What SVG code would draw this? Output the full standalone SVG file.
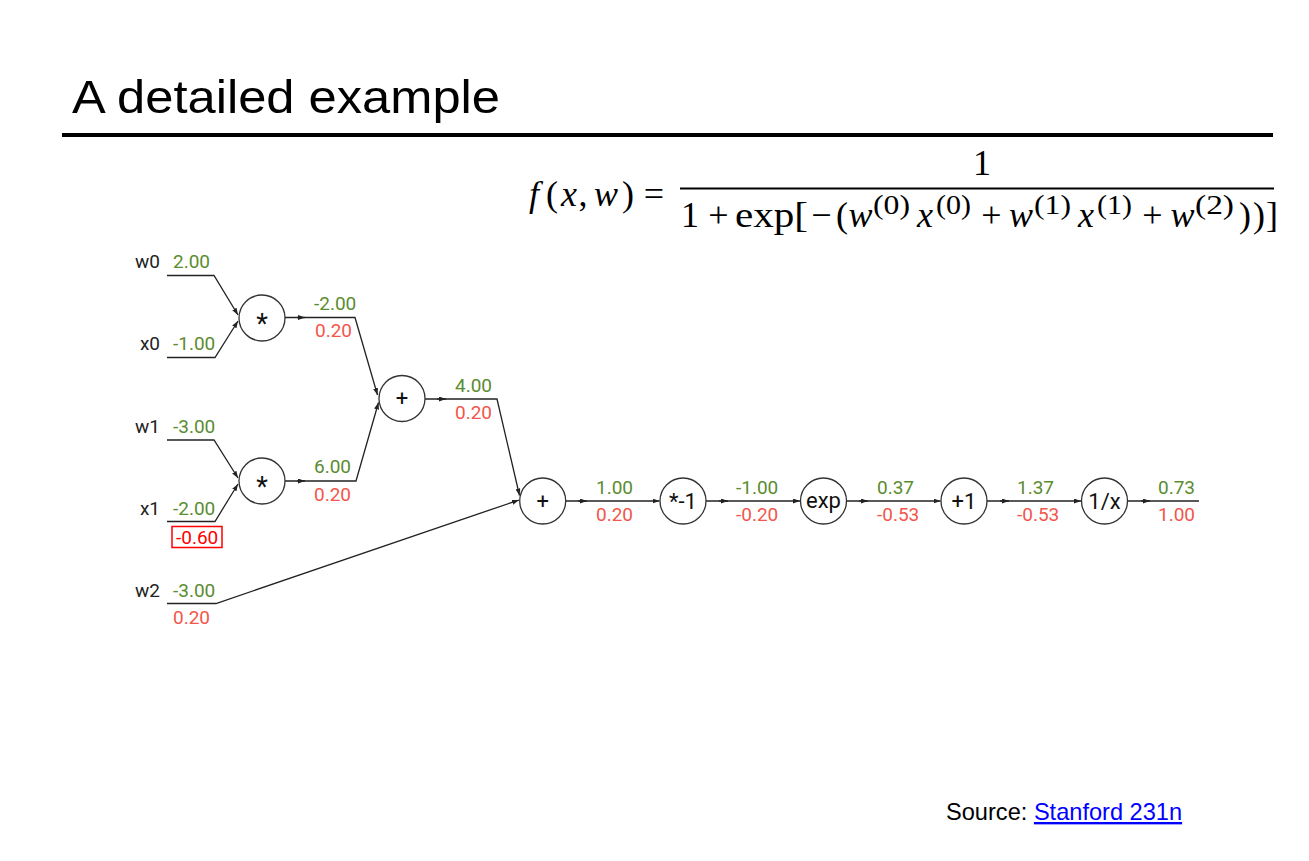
<svg xmlns="http://www.w3.org/2000/svg" width="1309" height="861" viewBox="0 0 1309 861">
<style>
  .title{font-family:"Liberation Sans",Arial,sans-serif;font-size:46px;fill:#000}
  .math{font-family:"Liberation Serif","Times New Roman",serif;font-size:36px;fill:#000}
  .c{text-anchor:middle}
  .mi{font-style:italic}
  .sup{font-size:27px}
  .lbl{font-family:Roboto,"Liberation Sans",sans-serif;font-size:19px;fill:#222}
  .g{font-family:Roboto,"Liberation Sans",sans-serif;font-size:19px;fill:#5a8c30}
  .r{font-family:Roboto,"Liberation Sans",sans-serif;font-size:19px;fill:#f2564c}
  .rb{font-family:Roboto,"Liberation Sans",sans-serif;font-size:19px;fill:#ff0000}
  .node circle{fill:#fff;stroke:#333;stroke-width:1.3}
  .node text{font-family:Roboto,"Liberation Sans",sans-serif;font-size:22px;fill:#111;text-anchor:middle}
  .node text.ast{font-size:27px}
  .edge{fill:none;stroke:#222;stroke-width:1.3}
  .src{font-family:"Liberation Sans",Arial,sans-serif;font-size:23.6px}
</style>
<defs>
  <marker id="arr" viewBox="0 0 7 5" refX="7" refY="2.5" markerWidth="7" markerHeight="5" markerUnits="userSpaceOnUse" orient="auto">
    <path d="M0,0 L7,2.5 L0,5 z" fill="#222"/>
  </marker>
</defs>
<rect width="1309" height="861" fill="#fff"/>

<g id="title">
  <text class="title" x="72" y="113" textLength="428" lengthAdjust="spacingAndGlyphs">A detailed example</text>
  <rect x="62" y="133" width="1211" height="4" fill="#000"/>
</g>

<g id="formula" class="math">
  <text class="c mi" x="534" y="206">f</text>
  <text class="c" x="552" y="206">(</text>
  <text class="c mi" x="569" y="206">x</text>
  <text class="c" x="583" y="206">,</text>
  <text class="c mi" x="606" y="206">w</text>
  <text class="c" x="628" y="206">)</text>
  <text class="c" x="654" y="206">=</text>
  <text class="c" x="982" y="175">1</text>
  <rect x="680" y="187.5" width="594" height="2" fill="#000"/>
  <text class="c" x="690" y="227">1</text>
  <text class="c" x="718.5" y="227">+</text>
  <text x="735" y="227" textLength="73" lengthAdjust="spacingAndGlyphs">exp[</text>
  <text class="c" x="821.5" y="227">−</text>
  <text class="c" x="842" y="227">(</text>
  <text class="c mi" x="860.5" y="227">w</text>
  <text class="sup" x="873" y="214" textLength="37" lengthAdjust="spacingAndGlyphs">(0)</text>
  <text class="c mi" x="925" y="227">x</text>
  <text class="sup" x="936" y="214" textLength="35" lengthAdjust="spacingAndGlyphs">(0)</text>
  <text class="c" x="991.5" y="227">+</text>
  <text class="c mi" x="1021" y="227">w</text>
  <text class="sup" x="1034" y="214" textLength="37" lengthAdjust="spacingAndGlyphs">(1)</text>
  <text class="c mi" x="1086" y="227">x</text>
  <text class="sup" x="1097" y="214" textLength="35" lengthAdjust="spacingAndGlyphs">(1)</text>
  <text class="c" x="1152.5" y="227">+</text>
  <text class="c mi" x="1182.5" y="227">w</text>
  <text class="sup" x="1195" y="214" textLength="39" lengthAdjust="spacingAndGlyphs">(2)</text>
  <text class="c" x="1245" y="227">)</text>
  <text class="c" x="1259" y="227">)</text>
  <text class="c" x="1272" y="227">]</text>
</g>

<g id="inputs">
  <g id="in-w0"><text class="lbl" x="160" y="268" text-anchor="end">w0</text><text class="g" x="173" y="268">2.00</text></g>
  <g id="in-x0"><text class="lbl" x="160" y="350" text-anchor="end">x0</text><text class="g" x="173" y="350">-1.00</text></g>
  <g id="in-w1"><text class="lbl" x="160" y="433" text-anchor="end">w1</text><text class="g" x="173" y="433">-3.00</text></g>
  <g id="in-x1"><text class="lbl" x="160" y="515" text-anchor="end">x1</text><text class="g" x="173" y="515">-2.00</text>
    <rect x="172" y="526.5" width="50" height="21" fill="none" stroke="#ff0000" stroke-width="1.5"/>
    <text class="rb" x="176" y="544">-0.60</text></g>
  <g id="in-w2"><text class="lbl" x="160" y="597" text-anchor="end">w2</text><text class="g" x="173" y="597">-3.00</text><text class="r" x="173" y="624">0.20</text></g>
</g>

<g id="connectors">
  <path class="edge" d="M167,275.5 L214,275.5 L238,315" marker-end="url(#arr)"/>
  <path class="edge" d="M167,357.5 L215,357.5 L238,321" marker-end="url(#arr)"/>
  <path class="edge" d="M167,440 L214,440 L238,478" marker-end="url(#arr)"/>
  <path class="edge" d="M167,521.5 L215,521.5 L238,484" marker-end="url(#arr)"/>
  <path class="edge" d="M167,603.5 L216,603.5 L519,500" marker-end="url(#arr)"/>

  <path class="edge" d="M285,317.5 L355,317.5 L377.5,395" marker-end="url(#arr)"/>
  <path class="edge" d="M297,317.5 L305,317.5" marker-end="url(#arr)"/>
  <path class="edge" d="M285,481 L356,481 L378.5,402.5" marker-end="url(#arr)"/>
  <path class="edge" d="M297,481 L305,481" marker-end="url(#arr)"/>
  <path class="edge" d="M425,399 L497,399 L519.5,495.5" marker-end="url(#arr)"/>
  <path class="edge" d="M437,399 L446,399" marker-end="url(#arr)"/>

  <path class="edge" d="M566,501 L659.5,501" marker-end="url(#arr)"/>
  <path class="edge" d="M578,501 L587,501" marker-end="url(#arr)"/>
  <path class="edge" d="M706,501 L800,501" marker-end="url(#arr)"/>
  <path class="edge" d="M719,501 L728,501" marker-end="url(#arr)"/>
  <path class="edge" d="M846.5,501 L940.5,501" marker-end="url(#arr)"/>
  <path class="edge" d="M859,501 L868,501" marker-end="url(#arr)"/>
  <path class="edge" d="M987,501 L1081,501" marker-end="url(#arr)"/>
  <path class="edge" d="M1000,501 L1009,501" marker-end="url(#arr)"/>
  <path class="edge" d="M1127.5,501 L1199,501"/>
  <path class="edge" d="M1141,501 L1150,501" marker-end="url(#arr)"/>
</g>

<g id="edge-values">
  <text class="g" x="314" y="310">-2.00</text><text class="r" x="315" y="337">0.20</text>
  <text class="g" x="314" y="473">6.00</text><text class="r" x="314" y="501">0.20</text>
  <text class="g" x="455" y="392">4.00</text><text class="r" x="455" y="419">0.20</text>
  <text class="g" x="596" y="494">1.00</text><text class="r" x="596" y="521">0.20</text>
  <text class="g" x="736" y="494">-1.00</text><text class="r" x="736" y="521">-0.20</text>
  <text class="g" x="877" y="494">0.37</text><text class="r" x="877" y="521">-0.53</text>
  <text class="g" x="1017" y="494">1.37</text><text class="r" x="1017" y="521">-0.53</text>
  <text class="g" x="1158" y="494">0.73</text><text class="r" x="1158" y="521">1.00</text>
</g>

<g id="n-mul0" class="node"><circle cx="262" cy="318" r="23"/><text class="ast" x="262" y="333">*</text></g>
<g id="n-mul1" class="node"><circle cx="262" cy="481" r="23"/><text class="ast" x="262" y="496">*</text></g>
<g id="n-add0" class="node"><circle cx="402" cy="398.5" r="23"/><text x="402" y="406">+</text></g>
<g id="n-add1" class="node"><circle cx="542.7" cy="501" r="23"/><text x="542.7" y="508.5">+</text></g>
<g id="n-neg" class="node"><circle cx="683" cy="501" r="23"/><text x="683" y="509">*-1</text></g>
<g id="n-exp" class="node"><circle cx="823.5" cy="501" r="23"/><text x="823.5" y="508">exp</text></g>
<g id="n-add2" class="node"><circle cx="964" cy="501" r="23"/><text x="964" y="509">+1</text></g>
<g id="n-inv" class="node"><circle cx="1104.5" cy="501" r="23"/><text x="1104.5" y="509">1/x</text></g>

<g id="source">
  <text class="src" x="946" y="820"><tspan fill="#000">Source: </tspan><tspan fill="#0000ff" text-decoration="underline">Stanford 231n</tspan></text>
</g>
</svg>
